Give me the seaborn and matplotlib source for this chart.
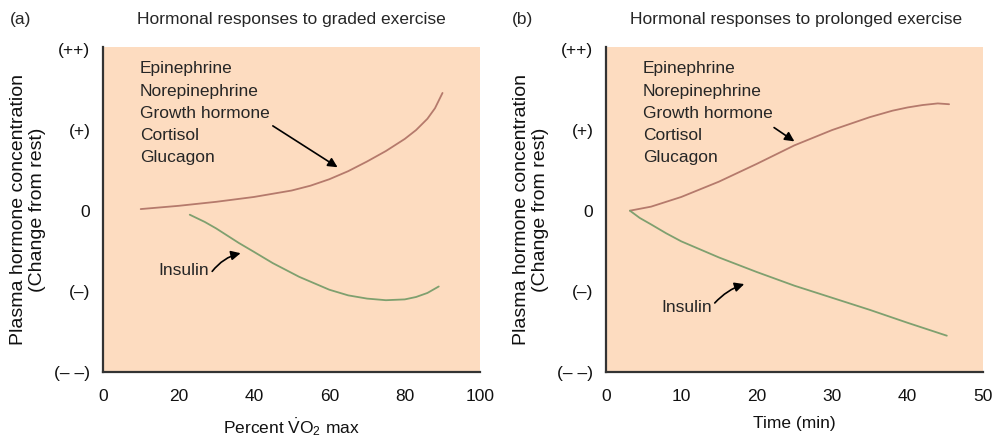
import numpy as np
import pandas as pd
import matplotlib
matplotlib.use("Agg")
import matplotlib.pyplot as plt
import seaborn as sns

# graded exercise (% VO2 max)
graded_up_x = [10, 20, 30, 40, 50, 55, 60, 65, 70, 75, 80, 83, 86, 88, 90]
graded_up_y = [0.02, 0.06, 0.11, 0.17, 0.25, 0.31, 0.39, 0.49, 0.61, 0.74, 0.89, 1.0, 1.14, 1.27, 1.46]
graded_ins_x = [23, 27, 30, 33, 36, 40, 45, 52, 60, 65, 70, 75, 80, 83, 86, 89]
graded_ins_y = [-0.05, -0.14, -0.22, -0.31, -0.40, -0.51, -0.65, -0.82, -0.98, -1.05, -1.09, -1.11, -1.10, -1.07, -1.02, -0.94]

# prolonged exercise (min)
prol_up_x = [3.2, 6, 10, 15, 20, 25, 30, 35, 38, 40, 42, 44, 45.5]
prol_up_y = [0.0, 0.05, 0.17, 0.36, 0.58, 0.81, 1.0, 1.16, 1.24, 1.28, 1.31, 1.33, 1.32]
prol_ins_x = [3.2, 4.5, 6, 8, 10, 15, 20, 25, 30, 35, 40, 45.2]
prol_ins_y = [0.0, -0.09, -0.17, -0.28, -0.38, -0.58, -0.76, -0.93, -1.08, -1.23, -1.39, -1.55]

y_ticks = [2, 1, 0, -1, -2]
y_ticklabels = ["(++)", "(+)", "0", "(\u2013)", "(\u2013 \u2013)"]
hormones_up = "Epinephrine\nNorepinephrine\nGrowth hormone\nCortisol\nGlucagon"

sns.set_style("white")
plt.rcParams["font.family"] = ["Liberation Sans", "DejaVu Sans"]
plt.rcParams["mathtext.fontset"] = "custom"
plt.rcParams["mathtext.rm"] = "Liberation Sans"
plt.rcParams["mathtext.it"] = "Liberation Sans"

BG = "#fddcc0"
RED = "#b57a6c"
GREEN = "#7fa06f"
DARK = "#333333"
FS = 12.5

fig = plt.figure(figsize=(9.98, 4.41), dpi=100)
ax1 = fig.add_axes([0.1032, 0.1565, 0.378, 0.737])
ax2 = fig.add_axes([0.607, 0.1565, 0.378, 0.737])


def make_df(ux, uy, ix, iy):
    d1 = pd.DataFrame({"x": ux, "y": uy, "h": "up"})
    d2 = pd.DataFrame({"x": ix, "y": iy, "h": "insulin"})
    return pd.concat([d1, d2], ignore_index=True)


df_a = make_df(graded_up_x, graded_up_y, graded_ins_x, graded_ins_y)
df_b = make_df(prol_up_x, prol_up_y, prol_ins_x, prol_ins_y)

for ax, df, xmax, xticks in [(ax1, df_a, 100, [0, 20, 40, 60, 80, 100]),
                             (ax2, df_b, 50, [0, 10, 20, 30, 40, 50])]:
    sns.lineplot(data=df, x="x", y="y", hue="h", palette={"up": RED, "insulin": GREEN},
                 ax=ax, legend=False, linewidth=1.3, sort=False)
    ax.set_facecolor(BG)
    ax.set_xlim(0, xmax)
    ax.set_ylim(-2, 2.03)
    ax.set_xticks(xticks)
    ax.set_xticklabels([str(t) for t in xticks])
    ax.set_yticks(y_ticks)
    ax.set_yticklabels(y_ticklabels)
    for s in ["top", "right"]:
        ax.spines[s].set_visible(False)
    for s in ["left", "bottom"]:
        ax.spines[s].set_color(DARK)
        ax.spines[s].set_linewidth(1.6)
    ax.tick_params(direction="in", length=14, width=2, color=DARK,
                   labelsize=FS, labelcolor="#111111", pad=9)
    ax.tick_params(axis="x", pad=12)
    ax.set_ylabel("Plasma hormone concentration\n(Change from rest)",
                  fontsize=14, color="#111111", labelpad=6, linespacing=1.15)

# panel (a)
ax1.set_xlabel(r"Percent $\dot{\mathrm{V}}$O$_2$ max", fontsize=FS, color="#111111", labelpad=9)
ax1.text(9.8, 1.85, hormones_up, fontsize=FS, va="top", ha="left", linespacing=1.6)
ax1.annotate("", xy=(62.8, 0.52), xytext=(44.4, 1.07),
             arrowprops=dict(arrowstyle="-|>", color="black", lw=1.2, mutation_scale=14))
ax1.text(14.6, -0.74, "Insulin", fontsize=FS, va="center", ha="left")
ax1.annotate("", xy=(37.2, -0.52), xytext=(28.5, -0.78),
             arrowprops=dict(arrowstyle="-|>", color="black", lw=1.2, mutation_scale=14,
                             connectionstyle="arc3,rad=-0.2"))

# panel (b)
ax2.set_xlabel("Time (min)", fontsize=FS, color="#111111", labelpad=9)
ax2.text(4.9, 1.85, hormones_up, fontsize=FS, va="top", ha="left", linespacing=1.6)
ax2.annotate("", xy=(25.3, 0.84), xytext=(22.0, 1.05),
             arrowprops=dict(arrowstyle="-|>", color="black", lw=1.2, mutation_scale=14))
ax2.text(7.4, -1.2, "Insulin", fontsize=FS, va="center", ha="left")
ax2.annotate("", xy=(18.7, -0.9), xytext=(14.2, -1.17),
             arrowprops=dict(arrowstyle="-|>", color="black", lw=1.2, mutation_scale=14,
                             connectionstyle="arc3,rad=-0.15"))

fig.text(0.010, 0.955, "(a)", fontsize=FS, va="center")
fig.text(0.292, 0.955, "Hormonal responses to graded exercise", fontsize=FS, va="center", ha="center")
fig.text(0.513, 0.955, "(b)", fontsize=FS, va="center")
fig.text(0.798, 0.955, "Hormonal responses to prolonged exercise", fontsize=FS, va="center", ha="center")

fig.savefig("out.png", dpi=100, facecolor="white")
